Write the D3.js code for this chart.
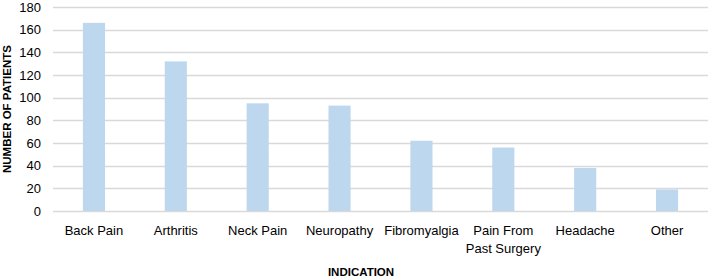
<!DOCTYPE html>
<html>
<head>
<meta charset="utf-8">
<script src="https://cdn.jsdelivr.net/npm/d3@7"></script>
<style>
  body { margin: 0; background: #fff; }
  text { font-family: "Liberation Sans", Arial, sans-serif; fill: #000; }
  .tick text { font-size: 13px; }
  .axistitle { font-size: 11.5px; font-weight: bold; }
</style>
</head>
<body>
<script>
// data
var categories = ["Back Pain", "Arthritis", "Neck Pain", "Neuropathy", "Fibromyalgia", "Pain From Past Surgery", "Headache", "Other"];
var patients = [166, 132, 95, 93, 62, 56, 38, 19];
var yTicks = [0, 20, 40, 60, 80, 100, 120, 140, 160, 180];

var W = 709, H = 277;
var margin = { top: 7, right: 1, bottom: 66, left: 53 };
var width = W - margin.left - margin.right;
var height = H - margin.top - margin.bottom;

var svg = d3.select("body").append("svg")
    .attr("width", W)
    .attr("height", H);

var g = svg.append("g")
    .attr("transform", "translate(" + margin.left + "," + margin.top + ")");

var x = d3.scaleBand()
    .domain(categories)
    .range([0, width])
    .paddingInner(0.73)
    .paddingOuter(0.365);

var y = d3.scaleLinear()
    .domain([0, 180])
    .range([height, 0]);

// gridlines
g.append("g").attr("class", "grid")
    .selectAll("line")
    .data(yTicks)
    .enter().append("line")
    .attr("x1", 0)
    .attr("x2", width)
    .attr("y1", d => Math.round(y(d)) + 0.5)
    .attr("y2", d => Math.round(y(d)) + 0.5)
    .attr("stroke", "#d9d9d9")
    .attr("stroke-width", 1.3);

// bars
g.append("g").attr("class", "bars")
    .selectAll("rect")
    .data(categories)
    .enter().append("rect")
    .attr("x", d => x(d))
    .attr("y", (d, i) => y(patients[i]))
    .attr("width", x.bandwidth())
    .attr("height", (d, i) => height - y(patients[i]))
    .attr("fill", "#bdd7ee");

// y axis (labels only)
var yAxis = g.append("g")
    .call(d3.axisLeft(y).tickValues(yTicks).tickSize(0).tickPadding(12));
yAxis.select(".domain").remove();
yAxis.selectAll(".tick text").attr("fill", "#000");

// x axis labels, wrapped like the original
var xAxis = g.append("g")
    .attr("transform", "translate(0," + height + ")")
    .call(d3.axisBottom(x).tickSize(0).tickPadding(15));
xAxis.select(".domain").remove();
xAxis.selectAll(".tick text").each(function(d) {
    var t = d3.select(this);
    if (d == "Pain From Past Surgery") {
        t.text(null);
        t.append("tspan").attr("x", 0).attr("dy", "0.71em").text("Pain From");
        t.append("tspan").attr("x", 0).attr("dy", "1.35em").text("Past Surgery");
        t.attr("dy", null);
    }
});

// axis titles
svg.append("text")
    .attr("class", "axistitle")
    .attr("text-anchor", "middle")
    .attr("x", 361)
    .attr("y", 276)
    .text("INDICATION");

svg.append("text")
    .attr("class", "axistitle")
    .attr("text-anchor", "middle")
    .attr("transform", "translate(11," + (margin.top + height / 2) + ") rotate(-90)")
    .text("NUMBER OF PATIENTS");
</script>
</body>
</html>
